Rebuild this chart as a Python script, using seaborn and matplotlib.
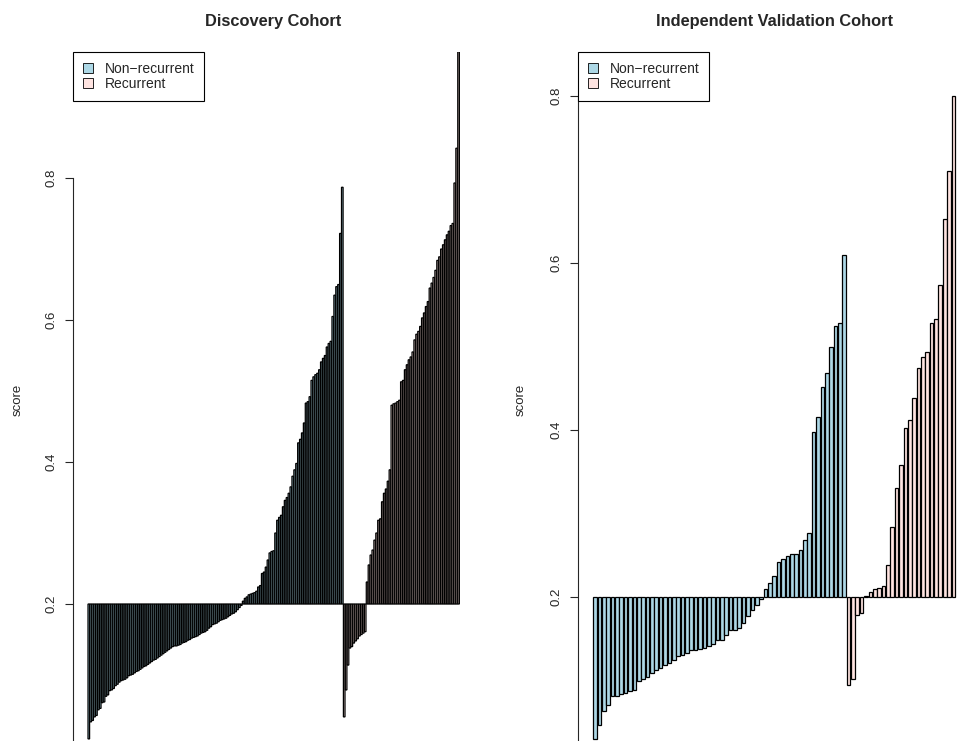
import pandas as pd
import seaborn as sns
import matplotlib.pyplot as plt
from matplotlib.patches import Patch

# scores, sorted within each group
disc_nonrec = [0.010, 0.034, 0.036, 0.041, 0.043, 0.051, 0.053, 0.061, 0.062, 0.070,
               0.072, 0.078, 0.079, 0.081, 0.085, 0.087, 0.090, 0.092, 0.093, 0.094,
               0.096, 0.099, 0.100, 0.101, 0.103, 0.105, 0.106, 0.108, 0.110, 0.112,
               0.113, 0.115, 0.117, 0.119, 0.121, 0.122, 0.124, 0.126, 0.128, 0.130,
               0.132, 0.134, 0.136, 0.138, 0.140, 0.141, 0.141, 0.142, 0.143, 0.145,
               0.146, 0.147, 0.149, 0.150, 0.152, 0.153, 0.154, 0.155, 0.157, 0.159,
               0.160, 0.161, 0.163, 0.166, 0.168, 0.171, 0.172, 0.173, 0.175, 0.177,
               0.178, 0.179, 0.180, 0.182, 0.184, 0.186, 0.187, 0.189, 0.192, 0.195,
               0.198,
               0.204, 0.208, 0.210, 0.213, 0.214, 0.215, 0.216, 0.218, 0.224, 0.226,
               0.243, 0.245, 0.252, 0.262, 0.272, 0.274, 0.275, 0.300, 0.318, 0.322,
               0.325, 0.337, 0.346, 0.350, 0.356, 0.365, 0.380, 0.389, 0.398, 0.427,
               0.432, 0.441, 0.455, 0.483, 0.485, 0.492, 0.515, 0.520, 0.523, 0.525,
               0.530, 0.541, 0.546, 0.550, 0.562, 0.567, 0.570, 0.605, 0.635, 0.647,
               0.650, 0.722, 0.787]
disc_rec = [0.041, 0.079, 0.114, 0.138, 0.140, 0.145, 0.148, 0.151, 0.155, 0.157, 0.159, 0.161,
            0.231, 0.255, 0.269, 0.276, 0.290, 0.300, 0.318, 0.320, 0.344, 0.356,
            0.362, 0.373, 0.389, 0.480, 0.482, 0.483, 0.485, 0.487, 0.513, 0.515,
            0.530, 0.537, 0.544, 0.548, 0.555, 0.572, 0.580, 0.584, 0.591, 0.603,
            0.610, 0.619, 0.626, 0.645, 0.652, 0.660, 0.670, 0.684, 0.689, 0.700,
            0.706, 0.713, 0.720, 0.725, 0.733, 0.736, 0.793, 0.842, 0.978]
val_nonrec = [0.030, 0.047, 0.064, 0.071, 0.081, 0.082, 0.084, 0.085, 0.087, 0.089,
              0.100, 0.102, 0.104, 0.109, 0.113, 0.115, 0.118, 0.121, 0.125, 0.129,
              0.131, 0.133, 0.136, 0.137, 0.138, 0.139, 0.141, 0.144, 0.148, 0.149,
              0.155, 0.160, 0.161, 0.163, 0.169, 0.177, 0.185, 0.190, 0.198,
              0.209, 0.217, 0.225, 0.242, 0.246, 0.249, 0.251, 0.252, 0.256, 0.268,
              0.277, 0.398, 0.416, 0.452, 0.468, 0.500, 0.524, 0.528, 0.610]
val_rec = [0.095, 0.102, 0.178, 0.181, 0.201, 0.206, 0.210, 0.211, 0.213, 0.238,
           0.284, 0.330, 0.358, 0.402, 0.412, 0.438, 0.474, 0.488, 0.493, 0.528,
           0.533, 0.574, 0.653, 0.710, 0.800]

groups = ["Non-recurrent", "Recurrent"]
legend_labels = ["Non\u2212recurrent", "Recurrent"]
fills = {"Non-recurrent": "lightblue", "Recurrent": "mistyrose"}
yticks = [0.2, 0.4, 0.6, 0.8]
baseline = 0.2

sns.set_style("ticks")
plt.rcParams["font.family"] = ["Liberation Sans", "DejaVu Sans"]


def make_frame(nonrec, rec):
    scores = nonrec + rec
    return pd.DataFrame({
        "sample": range(len(scores)),
        "offset": [s - baseline for s in scores],
        "group": [groups[0]] * len(nonrec) + [groups[1]] * len(rec),
    })


def draw_panel(ax, nonrec, rec, title, xlim, ylim, lw, snap, label_x):
    df = make_frame(nonrec, rec)
    sns.barplot(data=df, x="sample", y="offset", hue="group", hue_order=groups,
                palette=fills, saturation=1, dodge=False, width=1 / 1.2,
                errorbar=None, legend=False, bottom=baseline,
                edgecolor="black", linewidth=lw, snap=snap, ax=ax)
    ax.set_xlim(*xlim)
    ax.set_ylim(*ylim)
    for side in ["top", "right", "bottom"]:
        ax.spines[side].set_visible(False)
    ax.spines["left"].set_bounds(ylim[0], 0.8)
    ax.spines["left"].set_linewidth(0.8)
    ax.set_xticks([])
    ax.set_xlabel("")
    ax.set_yticks(yticks, labels=[f"{t:.1f}" for t in yticks], rotation=90, va="center")
    ax.tick_params(axis="y", length=5.8, width=0.8, pad=5.2, labelsize=9.5)
    ax.set_ylabel("score", fontsize=9.5)
    ax.yaxis.set_label_coords(label_x, 0.508)
    ax.set_title(title, fontsize=11.8, fontweight="bold", pad=18.5)

    handles = [Patch(facecolor=fills[g], edgecolor="black", linewidth=0.6) for g in groups]
    leg = ax.legend(handles, legend_labels, loc="upper left", bbox_to_anchor=(0, 1),
                    borderaxespad=0, frameon=True, fancybox=False, edgecolor="black",
                    framealpha=1, fontsize=10, handlelength=0.75, handleheight=0.75,
                    handletextpad=0.85, borderpad=0.7, labelspacing=0.1)
    leg.get_frame().set_linewidth(0.8)


fig = plt.figure(figsize=(9.59, 7.41), dpi=100)
ax1 = fig.add_axes([73 / 959, -19 / 741, 401 / 959, 708 / 741])
ax2 = fig.add_axes([578 / 959, -19 / 741, 392.6 / 959, 708 / 741])

draw_panel(ax1, disc_nonrec, disc_rec, "Discovery Cohort",
           (-8.29, 202.1), (-0.0197, 0.9775), 0.9, False, -0.122)
draw_panel(ax2, val_nonrec, val_rec, "Independent Validation Cohort",
           (-3.91, 85.93), (0.0048, 0.8527), 0.9, True, -0.13)

fig.savefig("out.png", dpi=100)
